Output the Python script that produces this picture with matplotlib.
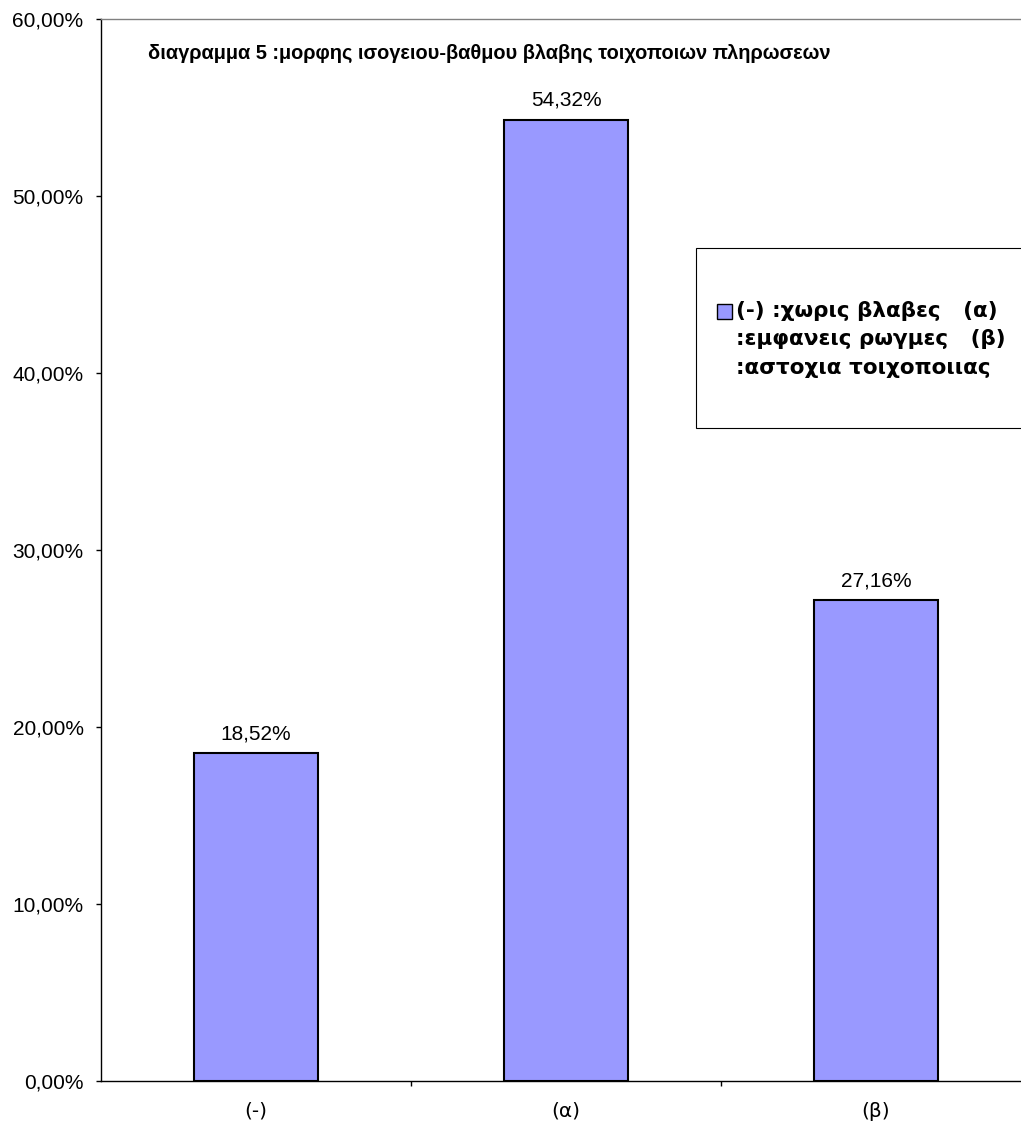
import matplotlib
matplotlib.use("Agg")
import matplotlib.pyplot as plt
from matplotlib.patches import Rectangle
from matplotlib.ticker import FixedLocator, FuncFormatter

# data
categories = ['(-)', '(α)', '(β)']
values = [0.1852, 0.5432, 0.2716]
title = 'διαγραμμα 5 :μορφης ισογειου-βαθμου βλαβης τοιχοποιων πληρωσεων'
legend_lines = ['(-) :χωρις βλαβες   (α)', ':εμφανεις ρωγμες   (β)', ':αστοχια τοιχοποιιας']

W, H = 1021, 1131
plt.rcParams['font.family'] = ['Liberation Sans', 'DejaVu Sans']

fig = plt.figure(figsize=(W / 100, H / 100), dpi=100)
# plot area runs past the right edge of the picture (cropped like the original)
ax = fig.add_axes([101 / W, 1 - 1081 / H, 930 / W, 1062 / H])

x = range(len(categories))
ax.bar(x, values, width=0.4, color='#9999ff', edgecolor='black', linewidth=1.5, zorder=3)
ax.set_xlim(-0.5, len(categories) - 0.5)
ax.set_ylim(0, 0.6)

def pct(v, pos=None):
    return ('%.2f%%' % (v * 100)).replace('.', ',')

ax.yaxis.set_major_locator(FixedLocator([i / 10 for i in range(7)]))
ax.yaxis.set_major_formatter(FuncFormatter(pct))
ax.tick_params(axis='y', direction='out', length=3.6, width=1, labelsize=15, pad=9)

ax.set_xticks(list(x))
ax.set_xticklabels(categories, fontsize=14.5, family='DejaVu Sans')
ax.set_xticks([i + 0.5 for i in range(len(categories) - 1)], minor=True)
ax.tick_params(axis='x', which='major', length=0, pad=15)
ax.tick_params(axis='x', which='minor', direction='out', length=3.6, width=1)

for s in ['left', 'bottom']:
    ax.spines[s].set_color('black')
    ax.spines[s].set_linewidth(1)
ax.spines['top'].set_color('#808080')
ax.spines['top'].set_linewidth(1)
ax.spines['right'].set_color('#808080')

for xi, v in zip(x, values):
    ax.annotate(pct(v), (xi, v), xytext=(0, 7), textcoords='offset points',
                ha='center', va='bottom', fontsize=15)

fig.text(148 / W, 1 - 53 / H, title, fontsize=14.4, fontweight='bold', ha='left', va='center')

# legend box (cut at the right edge like the original)
fig.patches.append(Rectangle((696 / W, 1 - 428 / H), 340 / W, 180 / H, transform=fig.transFigure,
                             facecolor='white', edgecolor='black', linewidth=0.8, zorder=5))
fig.patches.append(Rectangle((717 / W, 1 - 319 / H), 15 / W, 15 / H, transform=fig.transFigure,
                             facecolor='#9999ff', edgecolor='black', linewidth=1, zorder=6))
for i, line in enumerate(legend_lines):
    fig.text(736 / W, 1 - (311 + 28.5 * i) / H, line, fontsize=15.5, family='DejaVu Sans',
             fontweight='bold', ha='left', va='center', zorder=7)

fig.savefig('out.png', dpi=100)
